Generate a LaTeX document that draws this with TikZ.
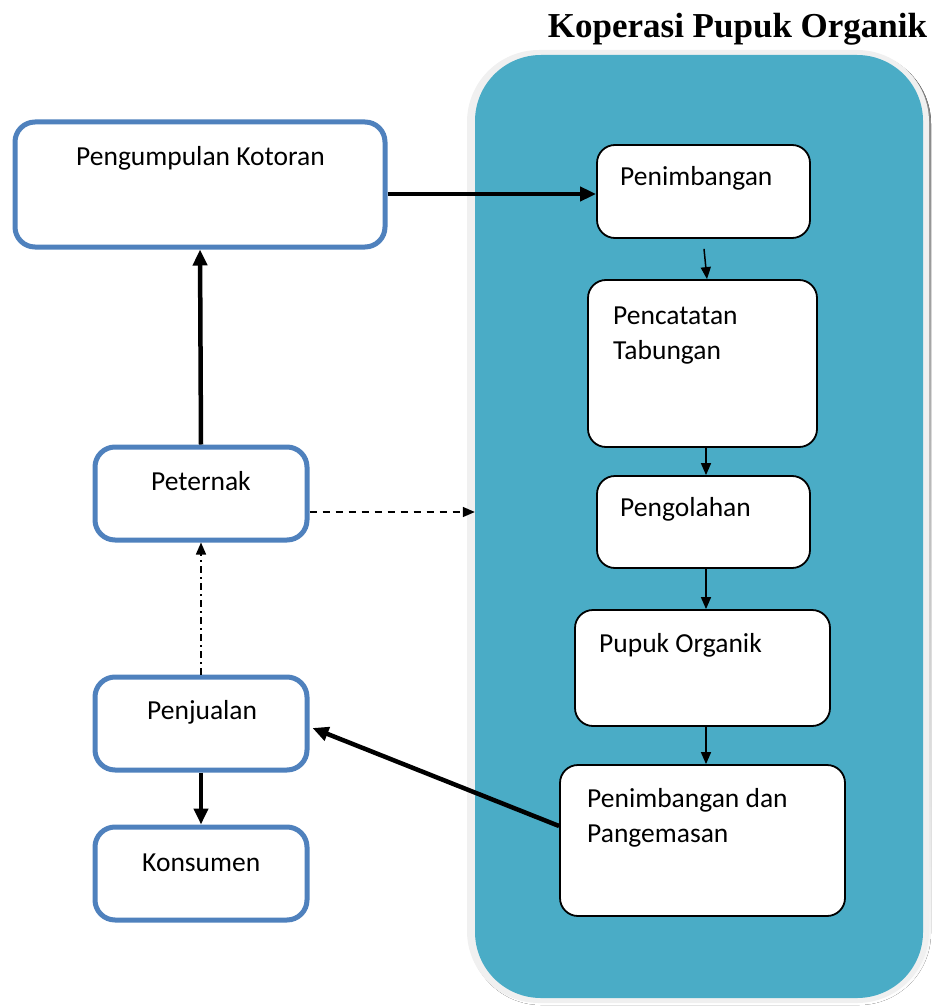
\documentclass[tikz,border=0pt]{standalone}
\usepackage{fontspec}
\setmainfont{Carlito}
\newfontfamily\titlefont{Liberation Serif}
\usetikzlibrary{arrows.meta,calc}
\definecolor{teal1}{HTML}{4AACC6}
\definecolor{ring}{HTML}{F0F0F0}
\definecolor{shade}{HTML}{9AAAB2}
\definecolor{blu}{HTML}{4F81BD}
\tikzset{
  bluebox/.style={draw=blu, line width=5pt, fill=white, rounded corners=20pt, inner sep=0pt},
  blkbox/.style={draw=black, line width=1.8pt, fill=white, rounded corners=18pt, inner sep=0pt},
  lbl/.style={anchor=base west, font=\fontsize{27.5}{35}\selectfont, inner sep=0pt, align=left},
  thickarrow/.style={line width=4.5pt, -{Triangle[length=16pt,width=14pt]}},
  thinarrow/.style={line width=1.5pt, -{Triangle[length=12pt,width=10pt]}},
}
\begin{document}
\begin{tikzpicture}[x=1pt,y=-1pt]
\useasboundingbox (0,0) rectangle (934,1008);
% panel
\fill[shade, rounded corners=72pt] (469,52) rectangle (931,1005);
\fill[ring, rounded corners=72pt] (467,50) rectangle (929,1003);
\node[fill=teal1, rounded corners=66pt, minimum width=448pt, minimum height=943pt, inner sep=0pt] (panel) at (699,526.5) {};
\node[anchor=base, inner sep=0pt, font=\titlefont\bfseries\fontsize{35}{40}\selectfont] (title) at (737.5,38) {Koperasi Pupuk Organik};
% left boxes
\node[bluebox, minimum width=370pt, minimum height=125pt] (kot) at (200,184.5) {};
\node[bluebox, minimum width=212pt, minimum height=93pt] (pet) at (201,493.5) {};
\node[bluebox, minimum width=212pt, minimum height=93pt] (penj) at (201,723.5) {};
\node[bluebox, minimum width=212pt, minimum height=93pt] (kons) at (201,873.5) {};
% right boxes
\node[blkbox, minimum width=213pt, minimum height=93pt] (pen1) at (703.5,191.5) {};
\node[blkbox, minimum width=229pt, minimum height=167pt] (pc) at (702.5,363.5) {};
\node[blkbox, minimum width=213pt, minimum height=92pt] (peng) at (703.5,522) {};
\node[blkbox, minimum width=255pt, minimum height=116pt] (pup) at (702.5,668) {};
\node[blkbox, minimum width=285pt, minimum height=151pt] (pd) at (702.5,840.5) {};
% labels
\node[lbl] at (76,166) {Pengumpulan Kotoran};
\node[lbl] at (151,490) {Peternak};
\node[lbl] at (147,719) {Penjualan};
\node[lbl] at (142,871) {Konsumen};
\node[lbl] at (620,186) {Penimbangan};
\node[lbl] at (613,359) {Pencatatan\\Tabungan};
\node[lbl] at (620,516) {Pengolahan};
\node[lbl] at (599,652) {Pupuk Organik};
\node[lbl] at (587,842) {Penimbangan dan\\Pangemasan};
% connectors
\draw[thickarrow] (kot.east |- 0,194) -- (pen1.west |- 0,194);
\draw[thickarrow] (pet.north) -- (kot.south);
\draw[line width=1.5pt, dash pattern=on 7pt off 6pt, -{Triangle[length=12pt,width=10pt]}] (pet.east |- 0,512) -- (panel.west |- 0,512);
\draw[line width=1.5pt, dash pattern=on 7pt off 4pt on 2pt off 4pt, -{Triangle[length=12pt,width=10pt]}] (penj.north) -- (pet.south);
\draw[thickarrow] (penj.south) -- (kons.north);
\draw[thickarrow] (pd.west |- 0,826) -- ($(penj.east)+(3,4.5)$);
\draw[thinarrow] ($(pen1.south)+(0.5,10)$) -- ($(pc.north)+(4.5,0)$);
\draw[thinarrow] ($(pc.south)+(3.5,0)$) -- ($(peng.north)+(2.5,0)$);
\draw[thinarrow] ($(peng.south)+(2.5,0)$) -- ($(pup.north)+(3.5,0)$);
\draw[thinarrow] ($(pup.south)+(3.5,0)$) -- ($(pd.north)+(3.5,0)$);
\end{tikzpicture}
\end{document}
